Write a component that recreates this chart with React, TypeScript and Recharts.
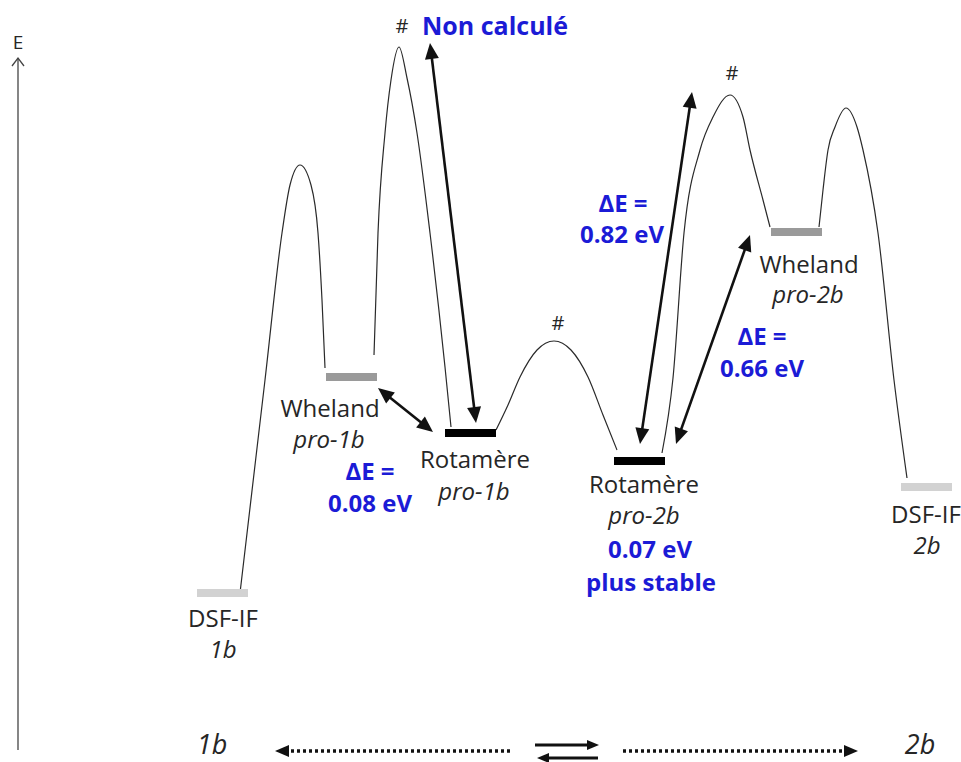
import { ComposedChart, Line, ReferenceLine, Scatter, XAxis, YAxis } from "recharts"

const W = 961
const H = 762
const FONT = "'Open Sans', sans-serif"
const INK = "#262626"
const BLUE = "#1b1bd6"

type Pt = { x: number; y: number }
type Tag = { x: number; y: number; text: string }

// energy profile: x = reaction coordinate, y = energy (arbitrary units)
const path1 = [
    { x: 240, y: 169 }, { x: 265, y: 382 }, { x: 282, y: 529 }, { x: 290, y: 577 }, { x: 300, y: 597 },
    { x: 311, y: 577 }, { x: 318, y: 529 }, { x: 322, y: 462 }, { x: 325, y: 394 },
]
const path2 = [
    { x: 374, y: 407 }, { x: 378, y: 529 }, { x: 385, y: 629 }, { x: 391, y: 682 }, { x: 399, y: 715 },
    { x: 407, y: 684 }, { x: 417, y: 629 }, { x: 430, y: 529 }, { x: 445, y: 395 }, { x: 451, y: 335 },
]
const path3 = [
    { x: 496, y: 332 }, { x: 508, y: 357 }, { x: 520, y: 385 }, { x: 537, y: 412 }, { x: 554, y: 421 },
    { x: 571, y: 412 }, { x: 588, y: 385 }, { x: 603, y: 347 }, { x: 617, y: 312 },
]
const path4 = [
    { x: 662, y: 309 }, { x: 673, y: 384 }, { x: 684, y: 529 }, { x: 700, y: 612 }, { x: 713, y: 645 },
    { x: 730, y: 667 }, { x: 743, y: 645 }, { x: 750, y: 612 }, { x: 763, y: 562 }, { x: 770, y: 535 },
]
const path5 = [
    { x: 819, y: 535 }, { x: 823, y: 572 }, { x: 828, y: 612 }, { x: 835, y: 635 }, { x: 846, y: 654 },
    { x: 857, y: 635 }, { x: 863, y: 612 }, { x: 878, y: 529 }, { x: 894, y: 382 }, { x: 907, y: 284 },
]
const paths: Pt[][] = [path1, path2, path3, path4, path5]

// stationary points: [x start, x end, energy]
const levelDsf = [[197, 248, 169], [901, 952, 275]]
const levelWheland = [[326, 377, 385], [771, 822, 530]]
const levelRot = [[445, 496, 329], [614, 665, 301]]

// double arrows between levels: [x1, E1, x2, E2]
const gapArrows = [
    [378, 374, 433, 330],
    [430, 719, 476, 339],
    [640, 318, 692, 670],
    [676, 318, 750, 527],
]

const stateNames: Tag[] = [
    { x: 223, y: 135, text: "DSF-IF" },
    { x: 330, y: 345, text: "Wheland" },
    { x: 475, y: 294, text: "Rotamère" },
    { x: 644, y: 269, text: "Rotamère" },
    { x: 809, y: 489, text: "Wheland" },
    { x: 926, y: 239, text: "DSF-IF" },
]
const stateIds: Tag[] = [
    { x: 223, y: 104, text: "1b" },
    { x: 329, y: 314, text: "pro-1b" },
    { x: 474, y: 262, text: "pro-1b" },
    { x: 644, y: 238, text: "pro-2b" },
    { x: 808, y: 459, text: "pro-2b" },
    { x: 927, y: 208, text: "2b" },
]
const gapNotes: Tag[] = [
    { x: 370, y: 282, text: "ΔE =" },
    { x: 370, y: 250, text: "0.08 eV" },
    { x: 623, y: 550, text: "ΔE =" },
    { x: 622, y: 519, text: "0.82 eV" },
    { x: 762, y: 417, text: "ΔE =" },
    { x: 762, y: 385, text: "0.66 eV" },
    { x: 650, y: 204, text: "0.07 eV" },
    { x: 651, y: 171, text: "plus stable" },
]
const topNote: Tag[] = [{ x: 495, y: 727, text: "Non calculé" }]
const tsMarks: Tag[] = [
    { x: 402, y: 729, text: "#" },
    { x: 558, y: 432, text: "#" },
    { x: 732, y: 682, text: "#" },
]
const axisName: Tag[] = [{ x: 18, y: 713, text: "E" }]
const ends: Tag[] = [
    { x: 212, y: 8, text: "1b" },
    { x: 920, y: 8, text: "2b" },
]

const headPoly = (tx: number, ty: number, fx: number, fy: number, len: number, half: number) => {
    const d = Math.hypot(tx - fx, ty - fy) || 1
    const ux = (tx - fx) / d
    const uy = (ty - fy) / d
    const bx = tx - ux * len
    const by = ty - uy * len
    return `${tx},${ty} ${bx - uy * half},${by + ux * half} ${bx + uy * half},${by - ux * half}`
}

type ArrowOpts = {
    start?: boolean
    end?: boolean
    width: number
    len: number
    half: number
    dash?: string
    open?: boolean
    color?: string
}

const arrowShape = (o: ArrowOpts) => (props: any) => {
    const { x1, y1, x2, y2 } = props
    const color = o.color ?? "#111"
    const d = Math.hypot(x2 - x1, y2 - y1) || 1
    const ux = (x2 - x1) / d
    const uy = (y2 - y1) / d
    const cut = o.open ? 0 : o.len * 0.8
    const sx = o.start ? x1 + ux * cut : x1
    const sy = o.start ? y1 + uy * cut : y1
    const ex = o.end ? x2 - ux * cut : x2
    const ey = o.end ? y2 - uy * cut : y2
    return (
        <g>
            <line x1={sx} y1={sy} x2={ex} y2={ey} stroke={color} strokeWidth={o.width} strokeDasharray={o.dash} />
            {o.end && !o.open && <polygon points={headPoly(x2, y2, x1, y1, o.len, o.half)} fill={color} />}
            {o.start && <polygon points={headPoly(x1, y1, x2, y2, o.len, o.half)} fill={color} />}
            {o.end && o.open && (
                <polyline
                    points={`${x2 - o.half},${y2 + o.len} ${x2},${y2} ${x2 + o.half},${y2 + o.len}`}
                    fill="none"
                    stroke={color}
                    strokeWidth={o.width}
                />
            )}
        </g>
    )
}

const textShape = (style: Record<string, any>) => (props: any) => {
    const { cx, cy, payload } = props
    return (
        <text x={cx} y={cy} textAnchor="middle" fontFamily={FONT} {...style}>
            {payload.text}
        </text>
    )
}

const levelLine = (seg: number[], color: string, key: string) => (
    <Line
        key={key}
        data={[{ x: seg[0], y: seg[2] }, { x: seg[1], y: seg[2] }]}
        dataKey="y"
        type="linear"
        stroke={color}
        strokeWidth={8}
        dot={false}
        activeDot={false}
        isAnimationActive={false}
    />
)

export default function App() {
    return (
        <div style={{ position: "absolute", left: 0, top: 0, background: "#fff" }}>
            <ComposedChart width={W} height={H} margin={{ top: 0, right: 0, bottom: 0, left: 0 }}>
                <XAxis type="number" dataKey="x" domain={[0, W]} hide allowDataOverflow />
                <YAxis type="number" dataKey="y" domain={[0, H]} hide allowDataOverflow />

                {/* energy axis */}
                <ReferenceLine
                    segment={[{ x: 18, y: 12 }, { x: 18, y: 704 }]}
                    ifOverflow="visible"
                    shape={arrowShape({ end: true, open: true, width: 1.3, len: 8, half: 6, color: "#444" })}
                />

                {paths.map((p, i) => (
                    <Line
                        key={"p" + i}
                        data={p}
                        dataKey="y"
                        type="monotone"
                        stroke="#2a2a2a"
                        strokeWidth={1.2}
                        dot={false}
                        activeDot={false}
                        isAnimationActive={false}
                    />
                ))}

                {levelDsf.map((s, i) => levelLine(s, "#d2d2d2", "d" + i))}
                {levelWheland.map((s, i) => levelLine(s, "#9a9a9a", "w" + i))}
                {levelRot.map((s, i) => levelLine(s, "#000", "r" + i))}

                {gapArrows.map((a, i) => (
                    <ReferenceLine
                        key={"a" + i}
                        segment={[{ x: a[0], y: a[1] }, { x: a[2], y: a[3] }]}
                        ifOverflow="visible"
                        shape={arrowShape({ start: true, end: true, width: 2.6, len: 16, half: 7 })}
                    />
                ))}

                {/* 1b <-> 2b reaction direction */}
                <ReferenceLine
                    segment={[{ x: 510, y: 11 }, { x: 275, y: 11 }]}
                    ifOverflow="visible"
                    shape={arrowShape({ end: true, width: 3.5, len: 14, half: 6, dash: "3 3" })}
                />
                <ReferenceLine
                    segment={[{ x: 623, y: 11 }, { x: 858, y: 11 }]}
                    ifOverflow="visible"
                    shape={arrowShape({ end: true, width: 3.5, len: 14, half: 6, dash: "3 3" })}
                />
                <ReferenceLine
                    segment={[{ x: 535, y: 17 }, { x: 599, y: 17 }]}
                    ifOverflow="visible"
                    shape={arrowShape({ end: true, width: 3, len: 12, half: 5 })}
                />
                <ReferenceLine
                    segment={[{ x: 598, y: 4 }, { x: 537, y: 4 }]}
                    ifOverflow="visible"
                    shape={arrowShape({ end: true, width: 3, len: 12, half: 5 })}
                />

                <Scatter data={stateNames} isAnimationActive={false} shape={textShape({ fontSize: 24, fill: INK })} />
                <Scatter
                    data={stateIds}
                    isAnimationActive={false}
                    shape={textShape({ fontSize: 24, fill: INK, fontStyle: "italic" })}
                />
                <Scatter
                    data={gapNotes}
                    isAnimationActive={false}
                    shape={textShape({ fontSize: 24, fill: BLUE, fontWeight: 700 })}
                />
                <Scatter
                    data={topNote}
                    isAnimationActive={false}
                    shape={textShape({ fontSize: 25, fill: BLUE, fontWeight: 700 })}
                />
                <Scatter data={tsMarks} isAnimationActive={false} shape={textShape({ fontSize: 20, fill: INK })} />
                <Scatter data={axisName} isAnimationActive={false} shape={textShape({ fontSize: 19, fill: INK })} />
                <Scatter
                    data={ends}
                    isAnimationActive={false}
                    shape={textShape({ fontSize: 27, fill: INK, fontStyle: "italic" })}
                />
            </ComposedChart>
        </div>
    )
}
